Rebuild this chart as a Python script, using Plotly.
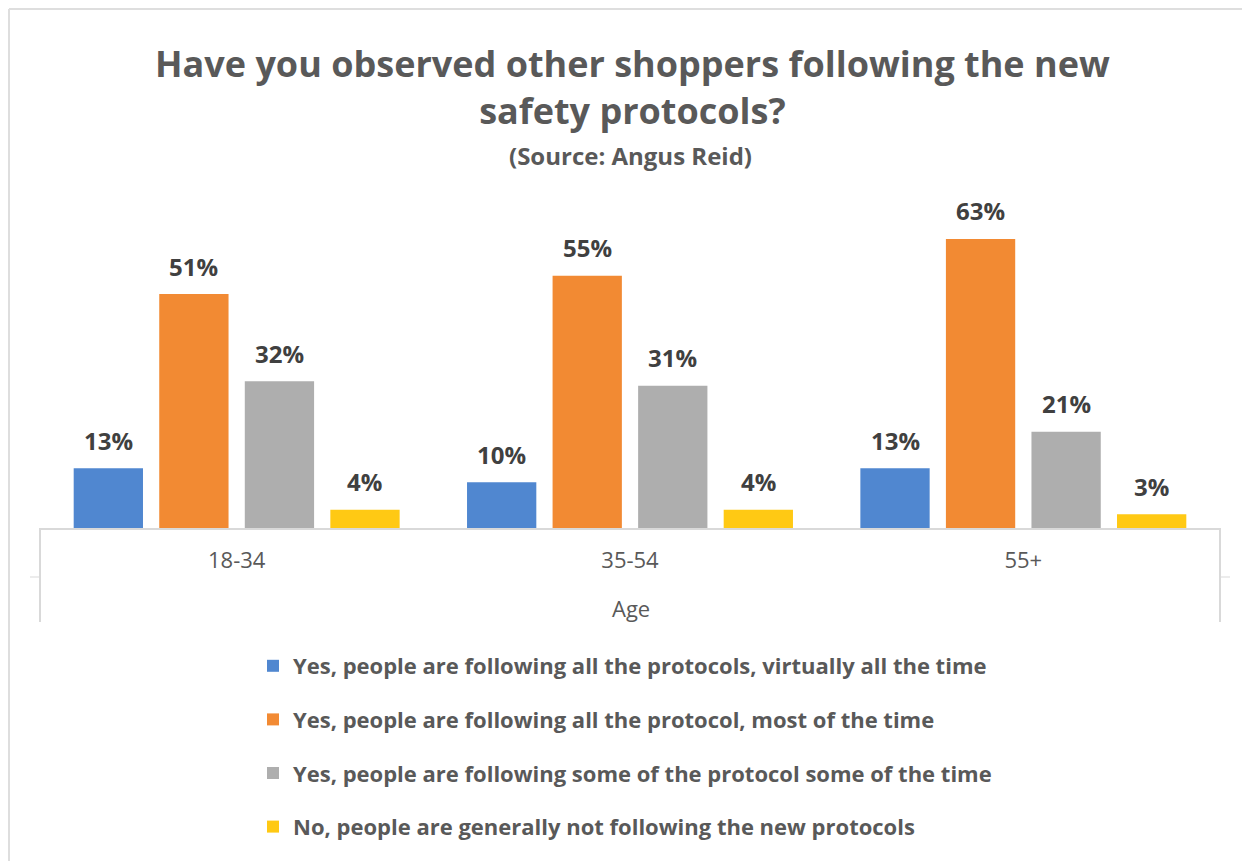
import plotly.graph_objects as go

# data
AGE_GROUPS = ["18-34", "35-54", "55+"]
SERIES_NAMES = [
    "Yes, people are following all the protocols, virtually all the time",
    "Yes, people are following all the protocol, most of the time",
    "Yes, people are following some of the protocol some of the time",
    "No, people are generally not following the new protocols",
]
ALL_VIRTUALLY = [13, 10, 13]
ALL_MOSTLY = [51, 55, 63]
SOME = [32, 31, 21]
NOT_FOLLOWING = [4, 4, 3]

COLORS = ["#5087D0", "#F28A33", "#AEAEAE", "#FFC914"]
FONT = "Open Sans"
GRAY_TXT = "#595959"
LABEL_TXT = "#404040"
LINE = "#D9D9D9"

# page has an 8px body margin, so the figure is a bit smaller than the window
W, H = 1242, 853
L, R, T, B = 32, 30, 192, 333
PH = H - T - B
PW = W - L - R
BARGAP, GROUPGAP = 0.13, 0.19


def py(y):
    """window pixel row -> paper y"""
    return (528 - y) / PH


def px_(x):
    """window pixel column -> paper x"""
    return (x - 40) / PW


all_series = [ALL_VIRTUALLY, ALL_MOSTLY, SOME, NOT_FOLLOWING]

fig = go.Figure()
for i, (name, vals) in enumerate(zip(SERIES_NAMES, all_series)):
    fig.add_trace(go.Bar(
        x=AGE_GROUPS, y=vals, name=name,
        marker=dict(color=COLORS[i], line=dict(width=0)),
        legendgroup=f"g{i}", hoverinfo="x+y",
    ))

# value labels above each bar
slot = PW / len(AGE_GROUPS) * (1 - BARGAP) / len(all_series)
labels = []
for i, vals in enumerate(all_series):
    for cat, v in zip(AGE_GROUPS, vals):
        labels.append(dict(
            x=cat, y=v, xref="x", yref="y", text=f"{v}%", showarrow=False,
            xanchor="center", yanchor="middle",
            xshift=(i - 1.5) * slot, yshift=28,
            font=dict(family=FONT, size=24, color=LABEL_TXT, weight="bold"),
        ))

shapes = [
    # chart border (top and left only, picture is cropped)
    dict(type="line", xref="paper", yref="paper", x0=px_(9), x1=px_(1252), y0=py(9), y1=py(9),
         line=dict(color="#DEDEDE", width=2)),
    dict(type="line", xref="paper", yref="paper", x0=px_(9), x1=px_(9), y0=py(9), y1=py(870),
         line=dict(color="#DEDEDE", width=2)),
    # category axis box lines
    dict(type="line", xref="paper", yref="paper", x0=0, x1=0, y0=0, y1=py(622),
         line=dict(color=LINE, width=2)),
    dict(type="line", xref="paper", yref="paper", x0=1, x1=1, y0=0, y1=py(622),
         line=dict(color=LINE, width=2)),
    dict(type="line", xref="paper", yref="paper", x0=px_(30), x1=0, y0=py(577), y1=py(577),
         line=dict(color=LINE, width=1)),
    dict(type="line", xref="paper", yref="paper", x0=1, x1=px_(1230), y0=py(577), y1=py(577),
         line=dict(color=LINE, width=1)),
]

fig.update_layout(
    width=W, height=H,
    margin=dict(l=L, r=R, t=T, b=B),
    paper_bgcolor="white", plot_bgcolor="white",
    font=dict(family=FONT, color=GRAY_TXT),
    barmode="group", bargap=BARGAP, bargroupgap=GROUPGAP,
    xaxis=dict(
        showline=True, linecolor=LINE, linewidth=2, ticks="", showgrid=False,
        tickfont=dict(family=FONT, size=22, color=GRAY_TXT), ticklabelstandoff=12,
    ),
    yaxis=dict(range=[0, 71.5], visible=False, showgrid=False),
    legend=dict(
        orientation="v", x=px_(253), xanchor="left", y=py(645), yanchor="top",
        font=dict(family=FONT, size=22, color=GRAY_TXT, weight="bold"),
        tracegroupgap=22, bgcolor="rgba(0,0,0,0)",
    ),
    shapes=shapes,
    annotations=labels + [
        dict(text="Have you observed other shoppers following the new<br>safety protocols?",
             xref="paper", yref="paper", x=px_(632), y=py(87),
             xanchor="center", yanchor="middle", showarrow=False,
             font=dict(family=FONT, size=36, color=GRAY_TXT, weight="bold")),
        dict(text="(Source: Angus Reid)", xref="paper", yref="paper",
             x=px_(630), y=py(155), xanchor="center", yanchor="middle", showarrow=False,
             font=dict(family=FONT, size=24, color=GRAY_TXT, weight="bold")),
        dict(text="Age", xref="paper", yref="paper",
             x=px_(631), y=py(608), xanchor="center", yanchor="middle", showarrow=False,
             font=dict(family=FONT, size=22, color=GRAY_TXT)),
    ],
)

fig.write_html("out.html")
